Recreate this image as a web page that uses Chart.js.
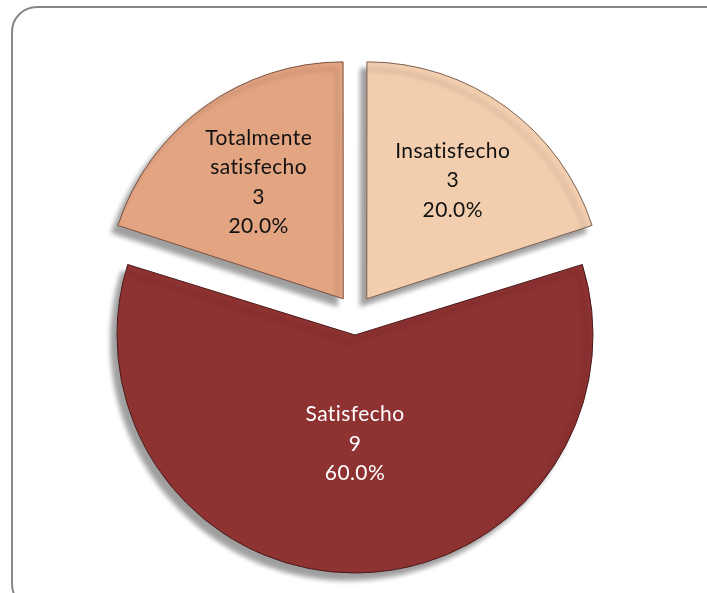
<!DOCTYPE html>
<html>
<head>
<meta charset="utf-8">
<script src="https://cdn.jsdelivr.net/npm/chart.js@4"></script>
<style>
  html, body { margin: 0; padding: 0; background: #fff; }
  #wrap { position: relative; width: 707px; height: 593px; overflow: hidden; }
  #frame { position: absolute; left: 11px; top: 6px; width: 720px; height: 600px;
           border: 2px solid #878787; border-radius: 26px; }
  #pie { position: absolute; left: 0; top: 0; }
</style>
</head>
<body>
<div id="wrap">
  <div id="frame"></div>
  <canvas id="pie" width="707" height="593"></canvas>
</div>
<script>
/* ─── Data ─────────────────────────────────────── */
const categories  = ['Insatisfecho', 'Satisfecho', 'Totalmente satisfecho'];
const labelLines  = [['Insatisfecho'], ['Satisfecho'], ['Totalmente', 'satisfecho']];
const counts      = [3, 9, 3];
const sliceColors = ['#F2CDAE', '#8F3232', '#E3A482'];
const edgeColors  = ['#7a6050', '#4a1a1a', '#7a5040'];
const textColors  = ['#111111', '#ffffff', '#111111'];

// how far out (fraction of radius) each label sits
const labelRadius = [0.62, 0.50, 0.61];
const LINE_H = 29.5;

const total = counts.reduce((a, b) => a + b, 0);

// exploded big slice: chart.js grows its radius by the offset, pull it back
const trimBigSlice = {
  id: 'trimBigSlice',
  afterDatasetsUpdate(chart) {
    const arc = chart.getDatasetMeta(0).data[1];
    if (arc) arc.outerRadius -= 18;
  }
};

// soft drop shadow down-left, like the office 3d preset
const shadow = {
  id: 'shadow',
  beforeDatasetsDraw(chart) {
    const ctx = chart.ctx;
    ctx.save();
    ctx.shadowColor = 'rgba(0,0,0,0.38)';
    ctx.shadowBlur = 5;
    ctx.shadowOffsetX = -6;
    ctx.shadowOffsetY = 7;
  },
  afterDatasetsDraw(chart) {
    chart.ctx.restore();
  }
};

const sliceLabels = {
  id: 'sliceLabels',
  afterDraw(chart) {
    const ctx = chart.ctx;
    const meta = chart.getDatasetMeta(0);
    ctx.save();
    ctx.font = '21px Lato, "Open Sans", sans-serif';
    ctx.letterSpacing = '0.4px';
    ctx.textAlign = 'center';
    ctx.textBaseline = 'middle';
    meta.data.forEach((arc, i) => {
      const mid = (arc.startAngle + arc.endAngle) / 2;
      const dist = (arc.options.offset || 0) / 4 + arc.outerRadius * labelRadius[i];
      const cx = arc.x + Math.cos(mid) * dist;
      const cy = arc.y + Math.sin(mid) * dist;
      const lines = [...labelLines[i], String(counts[i]), (counts[i] / total * 100).toFixed(1) + '%'];
      const top = cy - (lines.length - 1) * LINE_H / 2;
      ctx.fillStyle = textColors[i];
      lines.forEach((t, k) => ctx.fillText(t, cx, top + k * LINE_H));
    });
    ctx.restore();
  }
};

new Chart(document.getElementById('pie'), {
  type: 'pie',
  data: {
    labels: categories,
    datasets: [{
      data: counts,
      backgroundColor: sliceColors,
      borderColor: edgeColors,
      borderWidth: 1,
      offset: 80,
      radius: 236,
      hoverOffset: 0
    }]
  },
  options: {
    responsive: false,
    animation: false,
    events: [],
    layout: { padding: { left: 3, right: 0, top: 37, bottom: 0 } },
    plugins: {
      legend: { display: false },
      tooltip: { enabled: false }
    }
  },
  plugins: [trimBigSlice, shadow, sliceLabels]
});
</script>
</body>
</html>
